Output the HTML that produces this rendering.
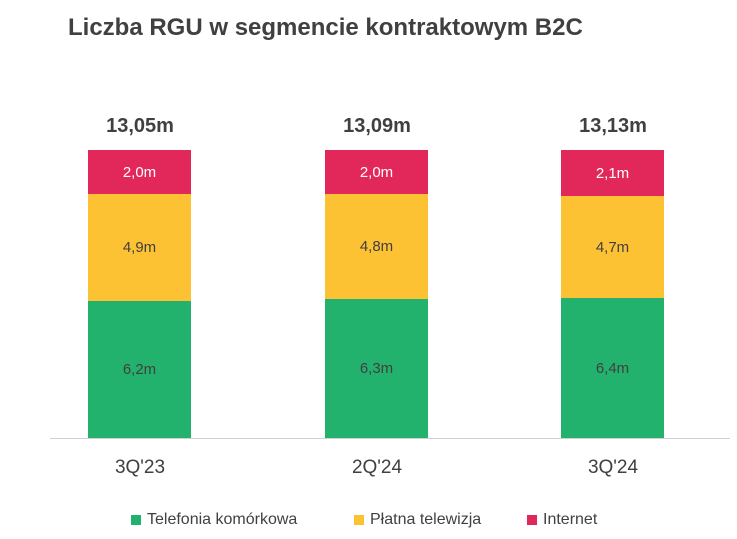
<!DOCTYPE html>
<html><head><meta charset="utf-8"><style>
body{margin:0;width:737px;height:539px;background:#fff;font-family:"Liberation Sans",Arial,sans-serif;position:relative;overflow:hidden}
.a{position:absolute}
.t{left:68px;top:14px;font-size:24px;font-weight:bold;color:#404040}
.tot{font-size:20px;font-weight:bold;color:#404040;width:160px;text-align:center;top:115px}
.seg{position:absolute;width:103px;display:flex;align-items:center;justify-content:center;font-size:15px;color:#404040}
.r{background:#e2275a;color:#fff}.y{background:#fdc134}.g{background:#23b26d}
.x{font-size:19px;color:#404040;width:160px;text-align:center;top:457px}
.leg{top:511px;font-size:16px;color:#404040;display:flex;align-items:center}
.sq{width:10px;height:10px;display:inline-block;margin-right:6px}
</style></head><body>
<div class="a t">Liczba RGU w segmencie kontraktowym B2C</div>
<div class="a" style="left:50px;top:438px;width:680px;height:1px;background:#d0d0d0"></div>

<div class="a tot" style="left:60px">13,05m</div>
<div class="seg r" style="left:88px;top:150px;height:44px">2,0m</div>
<div class="seg y" style="left:88px;top:194px;height:107px">4,9m</div>
<div class="seg g" style="left:88px;top:301px;height:137px">6,2m</div>
<div class="a x" style="left:60px">3Q'23</div>

<div class="a tot" style="left:297px">13,09m</div>
<div class="seg r" style="left:325px;top:150px;height:44px">2,0m</div>
<div class="seg y" style="left:325px;top:194px;height:105px">4,8m</div>
<div class="seg g" style="left:325px;top:299px;height:139px">6,3m</div>
<div class="a x" style="left:297px">2Q'24</div>

<div class="a tot" style="left:533px">13,13m</div>
<div class="seg r" style="left:561px;top:150px;height:46px">2,1m</div>
<div class="seg y" style="left:561px;top:196px;height:102px">4,7m</div>
<div class="seg g" style="left:561px;top:298px;height:140px">6,4m</div>
<div class="a x" style="left:533px">3Q'24</div>

<div class="a leg" style="left:131px"><span class="sq" style="background:#23b26d"></span>Telefonia komórkowa</div>
<div class="a leg" style="left:354px"><span class="sq" style="background:#fdc134"></span>Płatna telewizja</div>
<div class="a leg" style="left:527px"><span class="sq" style="background:#e2275a"></span>Internet</div>
</body></html>
